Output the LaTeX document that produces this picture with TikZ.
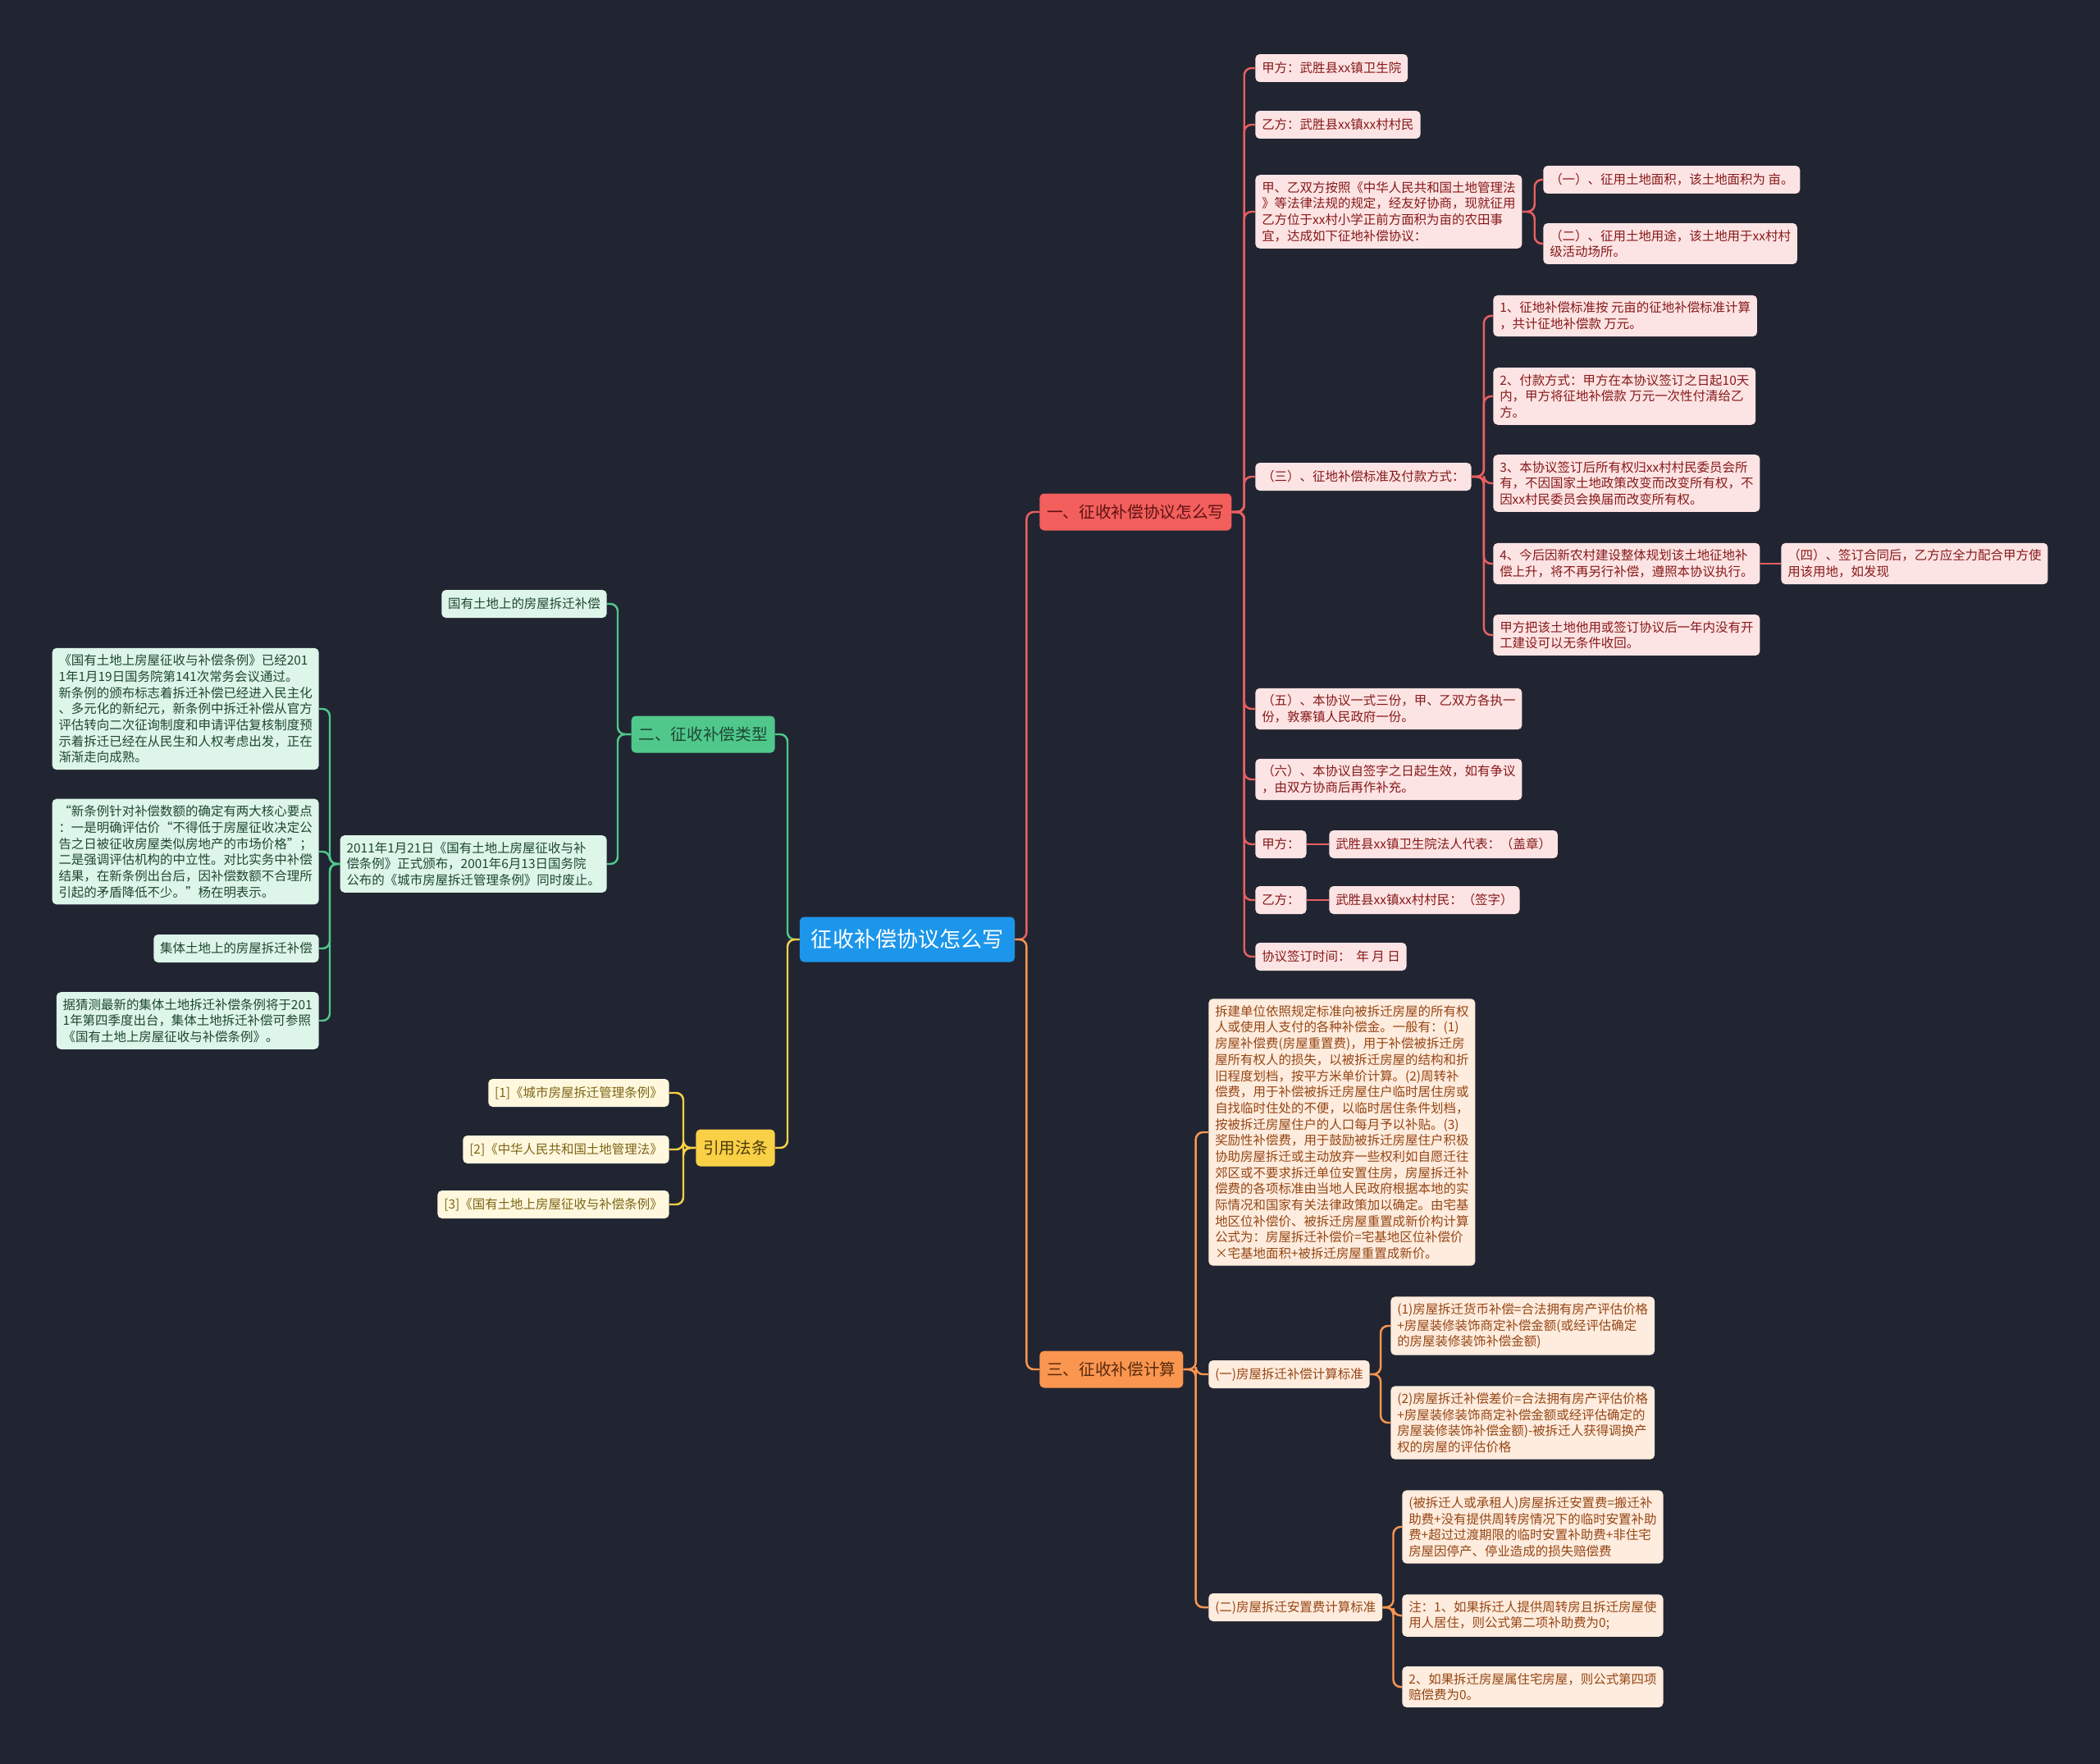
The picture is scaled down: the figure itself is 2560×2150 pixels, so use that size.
\documentclass[tikz,border=0pt]{standalone}
\usepackage{fontspec}
\setmainfont{Noto Sans CJK SC}
\definecolor{bgdark}{RGB}{33,37,50}
\definecolor{rootblue}{RGB}{28,150,235}
\definecolor{redhead}{RGB}{242,95,92}
\definecolor{redleaf}{RGB}{253,228,228}
\definecolor{redtext}{RGB}{135,25,25}
\definecolor{redline}{RGB}{232,96,96}
\definecolor{greenhead}{RGB}{80,200,140}
\definecolor{greenleaf}{RGB}{222,245,233}
\definecolor{greentext}{RGB}{30,72,50}
\definecolor{yellowhead}{RGB}{250,208,70}
\definecolor{yellowleaf}{RGB}{255,248,222}
\definecolor{yellowtext}{RGB}{125,100,20}
\definecolor{orangehead}{RGB}{250,150,80}
\definecolor{orangeleaf}{RGB}{254,236,222}
\definecolor{orangetext}{RGB}{150,70,20}
\usetikzlibrary{positioning}

\begin{document}
\begin{tikzpicture}[x=0.02cm,y=-0.02cm,
        every node/.style={rounded corners=3pt,align=left,inner xsep=4.5pt,
                           inner ysep=4.5pt,minimum height=0.68cm,
                           font=\fontsize{8.8}{11.2}\selectfont},
        head/.style={minimum height=0.9cm,inner xsep=5pt,
                     font=\fontsize{11.2}{13}\selectfont},
        rl/.style={fill=redleaf,text=redtext,anchor=west},
        gl/.style={fill=greenleaf,text=greentext,anchor=east},
        yl/.style={fill=yellowleaf,text=yellowtext,anchor=east},
        ol/.style={fill=orangeleaf,text=orangetext,anchor=west},
        ln/.style={line width=1.4pt,rounded corners=5pt}]
  \fill[bgdark] (0,0) rectangle (2560,2150);
  % centre
  \node[fill=rootblue,text=white,minimum height=1.1cm,inner xsep=8pt,
        font=\fontsize{14.8}{18}\selectfont] (root) at (1106,1145) {征收补偿协议怎么写};
  % main branches
  \node[head,fill=redhead,text=redtext!70!black,anchor=west] (one) at (1267,624) {一、征收补偿协议怎么写};
  \node[head,fill=orangehead,text=orangetext!60!black,anchor=west] (three) at (1267,1669) {三、征收补偿计算};
  \node[head,fill=greenhead,text=greentext,anchor=east] (two) at (945,895) {二、征收补偿类型};
  \node[head,fill=yellowhead,text=yellowtext!60!black,anchor=east] (law) at (945,1399) {引用法条};

  % branch one
  \node[rl] (jia) at (1530,83) {甲方：武胜县xx镇卫生院};
  \node[rl] (yi) at (1530,152) {乙方：武胜县xx镇xx村村民};
  \node[rl] (both) at (1530,258) {甲、乙双方按照《中华人民共和国土地管理法\\》等法律法规的规定，经友好协商，现就征用\\乙方位于xx村小学正前方面积为亩的农田事\\宜，达成如下征地补偿协议：};
  \node[rl] (area) at (1881,219) {（一）、征用土地面积，该土地面积为 亩。};
  \node[rl] (usage) at (1881,297) {（二）、征用土地用途，该土地用于xx村村\\级活动场所。};
  \node[rl] (std) at (1530,581) {（三）、征地补偿标准及付款方式：};
  \node[rl] (s1) at (1820,385) {1、征地补偿标准按 元亩的征地补偿标准计算\\，共计征地补偿款 万元。};
  \node[rl] (s2) at (1820,483) {2、付款方式：甲方在本协议签订之日起10天\\内，甲方将征地补偿款 万元一次性付清给乙\\方。};
  \node[rl] (s3) at (1820,589) {3、本协议签订后所有权归xx村村民委员会所\\有，不因国家土地政策改变而改变所有权，不\\因xx村民委员会换届而改变所有权。};
  \node[rl] (s4) at (1820,687) {4、今后因新农村建设整体规划该土地征地补\\偿上升，将不再另行补偿，遵照本协议执行。};
  \node[rl] (s4a) at (2171,687) {（四）、签订合同后，乙方应全力配合甲方使\\用该用地，如发现};
  \node[rl] (s5) at (1820,774) {甲方把该土地他用或签订协议后一年内没有开\\工建设可以无条件收回。};
  \node[rl] (copies) at (1530,864) {（五）、本协议一式三份，甲、乙双方各执一\\份，敦寨镇人民政府一份。};
  \node[rl] (valid) at (1530,950) {（六）、本协议自签字之日起生效，如有争议\\，由双方协商后再作补充。};
  \node[rl] (signa) at (1530,1029) {甲方：};
  \node[rl] (signa2) at (1620,1029) {武胜县xx镇卫生院法人代表：（盖章）};
  \node[rl] (signb) at (1530,1097) {乙方：};
  \node[rl] (signb2) at (1620,1097) {武胜县xx镇xx村村民：（签字）};
  \node[rl] (date) at (1530,1166) {协议签订时间：\ \ 年 月 日};

  % branch three
  \node[ol] (fees) at (1473,1380) {拆建单位依照规定标准向被拆迁房屋的所有权\\人或使用人支付的各种补偿金。一般有：(1)\\房屋补偿费(房屋重置费)，用于补偿被拆迁房\\屋所有权人的损失，以被拆迁房屋的结构和折\\旧程度划档，按平方米单价计算。(2)周转补\\偿费，用于补偿被拆迁房屋住户临时居住房或\\自找临时住处的不便，以临时居住条件划档，\\按被拆迁房屋住户的人口每月予以补贴。(3)\\奖励性补偿费，用于鼓励被拆迁房屋住户积极\\协助房屋拆迁或主动放弃一些权利如自愿迁往\\郊区或不要求拆迁单位安置住房，房屋拆迁补\\偿费的各项标准由当地人民政府根据本地的实\\际情况和国家有关法律政策加以确定。由宅基\\地区位补偿价、被拆迁房屋重置成新价构计算\\公式为：房屋拆迁补偿价=宅基地区位补偿价\\×宅基地面积+被拆迁房屋重置成新价。};
  \node[ol] (calc) at (1473,1675) {(一)房屋拆迁补偿计算标准};
  \node[ol] (calc1) at (1695,1616) {(1)房屋拆迁货币补偿=合法拥有房产评估价格\\+房屋装修装饰商定补偿金额(或经评估确定\\的房屋装修装饰补偿金额)};
  \node[ol] (calc2) at (1695,1734) {(2)房屋拆迁补偿差价=合法拥有房产评估价格\\+房屋装修装饰商定补偿金额或经评估确定的\\房屋装修装饰补偿金额)-被拆迁人获得调换产\\权的房屋的评估价格};
  \node[ol] (settle) at (1473,1959) {(二)房屋拆迁安置费计算标准};
  \node[ol] (set1) at (1709,1861) {(被拆迁人或承租人)房屋拆迁安置费=搬迁补\\助费+没有提供周转房情况下的临时安置补助\\费+超过过渡期限的临时安置补助费+非住宅\\房屋因停产、停业造成的损失赔偿费};
  \node[ol] (set2) at (1709,1969) {注：1、如果拆迁人提供周转房且拆迁房屋使\\用人居住，则公式第二项补助费为0;};
  \node[ol] (set3) at (1709,2056) {2、如果拆迁房屋属住宅房屋，则公式第四项\\赔偿费为0。};

  % branch two
  \node[gl] (state) at (740,736) {国有土地上的房屋拆迁补偿};
  \node[gl] (law2011) at (740,1053) {2011年1月21日《国有土地上房屋征收与补\\偿条例》正式颁布，2001年6月13日国务院\\公布的《城市房屋拆迁管理条例》同时废止。};
  \node[gl] (passed) at (389,864) {《国有土地上房屋征收与补偿条例》已经201\\1年1月19日国务院第141次常务会议通过。\\新条例的颁布标志着拆迁补偿已经进入民主化\\、多元化的新纪元，新条例中拆迁补偿从官方\\评估转向二次征询制度和申请评估复核制度预\\示着拆迁已经在从民生和人权考虑出发，正在\\渐渐走向成熟。};
  \node[gl] (core) at (389,1038) {“新条例针对补偿数额的确定有两大核心要点\\：一是明确评估价“不得低于房屋征收决定公\\告之日被征收房屋类似房地产的市场价格”；\\二是强调评估机构的中立性。对比实务中补偿\\结果，在新条例出台后，因补偿数额不合理所\\引起的矛盾降低不少。”杨在明表示。};
  \node[gl] (coll) at (389,1156) {集体土地上的房屋拆迁补偿};
  \node[gl] (guess) at (389,1244) {据猜测最新的集体土地拆迁补偿条例将于201\\1年第四季度出台，集体土地拆迁补偿可参照\\《国有土地上房屋征收与补偿条例》。};

  % cited laws
  \node[yl] (ref1) at (816,1332) {[1]《城市房屋拆迁管理条例》};
  \node[yl] (ref2) at (816,1401) {[2]《中华人民共和国土地管理法》};
  \node[yl] (ref3) at (816,1468) {[3]《国有土地上房屋征收与补偿条例》};

  % connectors
  \draw[ln,redline] (root.east) -- ++(14,0) |- (one.west);
  \draw[ln,orangehead] (root.east) -- ++(14,0) |- (three.west);
  \draw[ln,greenhead] (two.east) -- ++(15,0) |- (root.west);
  \draw[ln,yellowhead] (law.east) -- ++(15,0) |- (root.west);
  \foreach \c in {jia,yi,both,std,copies,valid,signa,signb,date}
    \draw[ln,redline] (one.east) -- ++(15,0) |- (\c.west);
  \foreach \c in {area,usage}
    \draw[ln,redline] (both.east) -- ++(15,0) |- (\c.west);
  \foreach \c in {s1,s2,s3,s4,s5}
    \draw[ln,redline] (std.east) -- ++(15,0) |- (\c.west);
  \draw[ln,redline] (s4) -- (s4a); \draw[ln,redline] (signa) -- (signa2);
  \draw[ln,redline] (signb) -- (signb2);
  \foreach \c in {fees,calc,settle}
    \draw[ln,orangehead] (three.east) -- ++(15,0) |- (\c.west);
  \foreach \c in {calc1,calc2}
    \draw[ln,orangehead] (calc.east) -- ++(13,0) |- (\c.west);
  \foreach \c in {set1,set2,set3}
    \draw[ln,orangehead] (settle.east) -- ++(13,0) |- (\c.west);
  \foreach \c in {state,law2011}
    \draw[ln,greenhead] (\c.east) -- ++(13,0) |- (two.west);
  \foreach \c in {passed,core,coll,guess}
    \draw[ln,greenhead] (\c.east) -- ++(13,0) |- (law2011.west);
  \foreach \c in {ref1,ref2,ref3}
    \draw[ln,yellowhead] (\c.east) -- ++(17,0) |- (law.west);
\end{tikzpicture}
\end{document}
